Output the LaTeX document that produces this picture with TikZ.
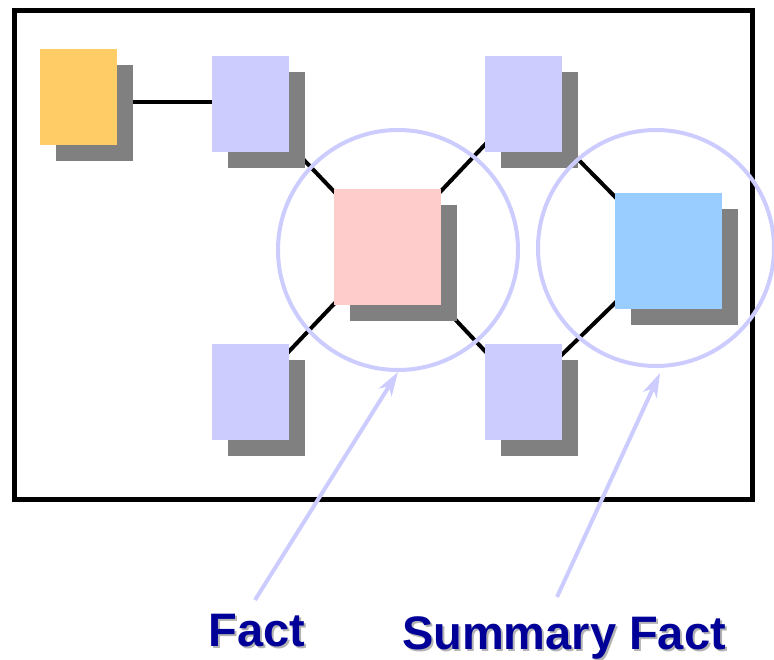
\documentclass[tikz,border=0pt]{standalone}
\usepackage{fontspec}
\setmainfont{Liberation Sans}
\usetikzlibrary{arrows.meta}
\definecolor{lav}{RGB}{204,204,255}
\definecolor{orangebox}{RGB}{255,204,102}
\definecolor{pinkbox}{RGB}{255,204,204}
\definecolor{bluebox}{RGB}{153,204,255}
\definecolor{shade}{RGB}{128,128,128}
\definecolor{textshade}{RGB}{179,179,179}
\definecolor{navy}{RGB}{0,0,153}
% text with a soft drop shadow, set in one box
\newcommand{\shadowtext}[1]{\makebox[0pt][l]{\hspace{2pt}\raisebox{-2pt}{\textcolor{textshade}{#1}}}#1}
\tikzset{
  tile/.style={fill=#1, inner sep=0pt, outer sep=0pt, minimum width=77pt, minimum height=96pt},
  bigtile/.style={fill=#1, inner sep=0pt, outer sep=0pt, minimum width=107pt, minimum height=116pt},
  link/.style={line width=4pt, black},
  ring/.style={draw=lav, line width=4pt},
  pointer/.style={draw=lav, line width=4pt, -{Stealth[length=24pt,width=15pt,inset=7pt]}},
  caption/.style={font=\bfseries\fontsize{47}{50}\selectfont, text=navy, inner sep=0pt}
}
\begin{document}
\begin{tikzpicture}[x=1pt,y=-1pt]
\useasboundingbox (0,0) rectangle (774,660);
\fill[white] (0,0) rectangle (774,660);

% frame
\draw[line width=5pt] (14,11) rectangle (752,499);

% box centres
\coordinate (co) at (78.5,97);
\coordinate (ctl) at (250.5,104);
\coordinate (ctr) at (523.5,104);
\coordinate (cbl) at (250.5,392);
\coordinate (cbr) at (523.5,392);
\coordinate (cp) at (387.5,247.5);
\coordinate (cb) at (668.5,251);

% connectors (behind the boxes)
\coordinate (hl) at (120,102);
\coordinate (hr) at (215,102);
\draw[link] (hl) -- (hr);
\draw[link] (ctl) -- (cp);
\draw[link] (ctr) -- (cp);
\draw[link] (cbl) -- (cp);
\draw[link] (cbr) -- (cp);
\draw[link] (ctr) -- (cb);
\draw[link] (cbr) -- (cb);

% shadows
\foreach \c in {co,ctl,ctr,cbl,cbr}
  \node[tile=shade] at ([shift={(16,16)}]\c) {};
\node[bigtile=shade] at ([shift={(16,16)}]cp) {};
\node[bigtile=shade] at ([shift={(16,16)}]cb) {};

% boxes
\node[tile=orangebox] (o) at (co) {};
\node[tile=lav] (tl) at (ctl) {};
\node[tile=lav] (tr) at (ctr) {};
\node[tile=lav] (bl) at (cbl) {};
\node[tile=lav] (br) at (cbr) {};
\node[bigtile=pinkbox] (p) at (cp) {};
\node[bigtile=bluebox] (b) at (cb) {};

% rings
\node[ring, circle, minimum size=240pt, inner sep=0pt] (r1) at (398,250) {};
\node[ring, circle, minimum size=236pt, inner sep=0pt] (r2) at (656,248) {};

% captions
\node[caption, anchor=base] (f) at (257,646) {\shadowtext{Fact}};
\node[caption, anchor=base] (sf) at (564,649) {\shadowtext{Summary Fact}};

% pointers
\coordinate (a1) at (255,600);
\coordinate (a2) at (557,597);
\draw[pointer] (a1) -- (r1.south);
\draw[pointer] (a2) -- (660,373);
\end{tikzpicture}
\end{document}
